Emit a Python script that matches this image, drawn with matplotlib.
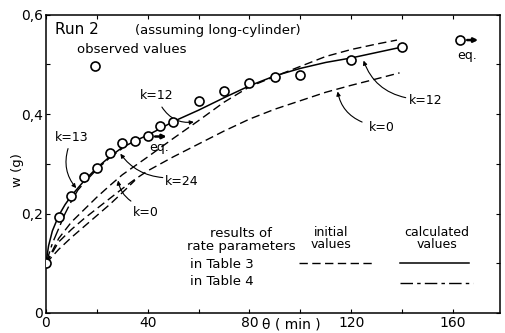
import matplotlib
matplotlib.use("Agg")
import matplotlib.pyplot as plt
from matplotlib.ticker import MultipleLocator, FuncFormatter

# observed values (Run 2)
obs_t = [0, 5, 10, 15, 20, 25, 30, 35, 40, 45, 50, 60, 70, 80, 90, 100, 120, 140]
obs_w = [0.100, 0.194, 0.235, 0.273, 0.291, 0.321, 0.341, 0.346, 0.356, 0.376,
         0.385, 0.426, 0.446, 0.462, 0.474, 0.478, 0.509, 0.535]

# calculated values, Table 3 (solid, k=12)
calc3_t = [0, 1, 2.5, 5, 7.5, 10, 15, 20, 25, 30, 35, 40, 45, 50, 60, 70, 80,
           90, 100, 110, 120, 130, 140]
calc3_w = [0.100, 0.135, 0.165, 0.196, 0.218, 0.236, 0.266, 0.292, 0.314, 0.333,
           0.346, 0.358, 0.371, 0.385, 0.408, 0.433, 0.457, 0.477, 0.492, 0.504,
           0.513, 0.524, 0.535]

# calculated values, Table 4 (dash-dot, k=13)
calc4_t = [0, 2.5, 5, 7.5, 10, 12.5, 15, 20, 25, 30]
calc4_w = [0.100, 0.140, 0.170, 0.200, 0.225, 0.247, 0.262, 0.289, 0.312, 0.331]

# initial values, Table 3 (dashed)
init_a_t = [0, 5, 10, 15, 20, 25, 30, 40, 50, 60, 70, 80, 90, 100, 110, 120, 130, 138]
init_a_w = [0.100, 0.150, 0.183, 0.208, 0.233, 0.256, 0.278, 0.314, 0.351, 0.387,
            0.424, 0.455, 0.476, 0.496, 0.516, 0.530, 0.541, 0.549]

init_b_t = [0, 5, 10, 15, 20, 25, 30, 35, 40, 50, 60, 70, 80, 90, 100, 110, 120, 130, 139]
init_b_w = [0.100, 0.143, 0.168, 0.190, 0.210, 0.230, 0.250, 0.269, 0.286, 0.314,
            0.340, 0.366, 0.390, 0.410, 0.427, 0.444, 0.458, 0.471, 0.483]

init_c_t = [0, 5, 10, 15, 20, 25, 30, 35]
init_c_w = [0.100, 0.128, 0.152, 0.174, 0.196, 0.218, 0.242, 0.267]

x_ticks = [0, 40, 80, 120, 160]
y_ticks = [0, 0.2, 0.4, 0.6]

DASHED = (0, (6, 3.2))
DASHDOT = (0, (9, 3, 2.5, 3))
FONT = "DejaVu Sans"
FS = 9.5


def pointer(ax, label, text_xy, tip_xy, start_xy, rad):
    ax.text(*text_xy, label, fontsize=FS - 0.5, ha="center", va="center", family=FONT)
    ax.annotate("", xy=tip_xy, xytext=start_xy,
                arrowprops=dict(arrowstyle="-|>", color="black", lw=0.8,
                                mutation_scale=6,
                                connectionstyle=f"arc3,rad={rad}"))


def main():
    fig = plt.figure(figsize=(5.05, 3.33), dpi=100)
    ax = fig.add_axes([46 / 505, 20 / 333, 454 / 505, 298.3 / 333])

    ax.plot(calc3_t, calc3_w, color="black", lw=1.1)
    ax.plot(calc4_t, calc4_w, color="black", lw=1.0, linestyle=DASHDOT)
    ax.plot(init_a_t, init_a_w, color="black", lw=1.0, linestyle=DASHED)
    ax.plot(init_b_t, init_b_w, color="black", lw=1.0, linestyle=DASHED)
    ax.plot(init_c_t, init_c_w, color="black", lw=1.0, linestyle=DASHED)

    ax.plot(obs_t, obs_w, linestyle="none", marker="o", ms=6.5, mfc="white",
            mec="black", mew=1.2, zorder=5)

    ax.set_xlim(0, 178.5)
    ax.set_ylim(0, 0.6)
    ax.set_xticks(x_ticks)
    ax.set_yticks(y_ticks)
    ax.xaxis.set_minor_locator(MultipleLocator(20))
    ax.yaxis.set_minor_locator(MultipleLocator(0.1))
    ax.yaxis.set_major_formatter(
        FuncFormatter(lambda v, p: "0" if v == 0 else f"{v:.1f}".replace(".", ",")))
    ax.tick_params(which="both", direction="in", top=True, right=True,
                   length=3, width=0.8, labelsize=10, pad=2)
    for lab in ax.get_xticklabels() + ax.get_yticklabels():
        lab.set_family(FONT)
    for s in ax.spines.values():
        s.set_linewidth(1.1)

    ax.text(3.5, 0.561, "Run 2", fontsize=11, family=FONT, va="baseline")
    ax.text(35, 0.561, "(assuming long-cylinder)", fontsize=FS, family=FONT,
            va="baseline")
    ax.text(12.2, 0.529, "observed values", fontsize=FS, family=FONT, va="center")
    ax.plot([19.3], [0.497], marker="o", ms=6.5, mfc="white", mec="black", mew=1.2)

    # equilibrium markers
    ax.plot([162.7], [0.549], marker="o", ms=6.5, mfc="white", mec="black", mew=1.2)
    ax.annotate("", xy=(171, 0.549), xytext=(164.5, 0.549),
                arrowprops=dict(arrowstyle="-|>", color="black", lw=1.8,
                                mutation_scale=6))
    ax.text(165.7, 0.518, "eq.", fontsize=FS - 0.5, family=FONT, ha="center", va="center")
    ax.annotate("", xy=(48.5, 0.355), xytext=(41.8, 0.355),
                arrowprops=dict(arrowstyle="-|>", color="black", lw=1.8,
                                mutation_scale=6))
    ax.text(44.5, 0.333, "eq.", fontsize=FS - 0.5, family=FONT, ha="center", va="center")

    pointer(ax, "k=12", (43.5, 0.4375), (59.2, 0.385), (45, 0.419), 0.35)
    pointer(ax, "k=13", (10.2, 0.354), (12.6, 0.247), (9, 0.336), 0.3)
    pointer(ax, "k=24", (53.5, 0.2635), (28.6, 0.325), (47, 0.272), -0.25)
    pointer(ax, "k=0", (39.1, 0.203), (28.2, 0.272), (34.3, 0.222), -0.25)
    pointer(ax, "k=12", (149.1, 0.4275), (124.5, 0.513), (142.5, 0.432), -0.3)
    pointer(ax, "k=0", (131.9, 0.374), (114.5, 0.451), (125.3, 0.382), -0.3)

    # key for the line styles
    ax.text(76.8, 0.159, "results of", fontsize=FS, family=FONT, ha="center", va="center")
    ax.text(76.8, 0.134, "rate parameters", fontsize=FS, family=FONT, ha="center", va="center")
    ax.text(56.6, 0.097, "in Table 3", fontsize=FS, family=FONT, ha="left", va="center")
    ax.text(56.6, 0.064, "in Table 4", fontsize=FS, family=FONT, ha="left", va="center")
    ax.text(112.2, 0.162, "initial", fontsize=FS - 0.5, family=FONT, ha="center", va="center")
    ax.text(112.2, 0.137, "values", fontsize=FS - 0.5, family=FONT, ha="center", va="center")
    ax.text(153.8, 0.162, "calculated", fontsize=FS - 0.5, family=FONT, ha="center", va="center")
    ax.text(153.8, 0.137, "values", fontsize=FS - 0.5, family=FONT, ha="center", va="center")
    ax.plot([99.6, 128.3], [0.101, 0.101], color="black", lw=1.0, linestyle=DASHED)
    ax.plot([139.1, 166.3], [0.101, 0.101], color="black", lw=1.1)
    ax.plot([139.1, 167.7], [0.060, 0.060], color="black", lw=1.0, linestyle=DASHDOT)

    fig.text(17 / 505, 1 - 170 / 333, "w (g)", fontsize=9.5, family=FONT,
             rotation=90, ha="center", va="center")
    fig.text(291 / 505, 1 / 333, "\u03b8 ( min )", fontsize=10, family=FONT,
             ha="center", va="bottom")

    fig.savefig("out.png", dpi=100)


if __name__ == "__main__":
    main()
